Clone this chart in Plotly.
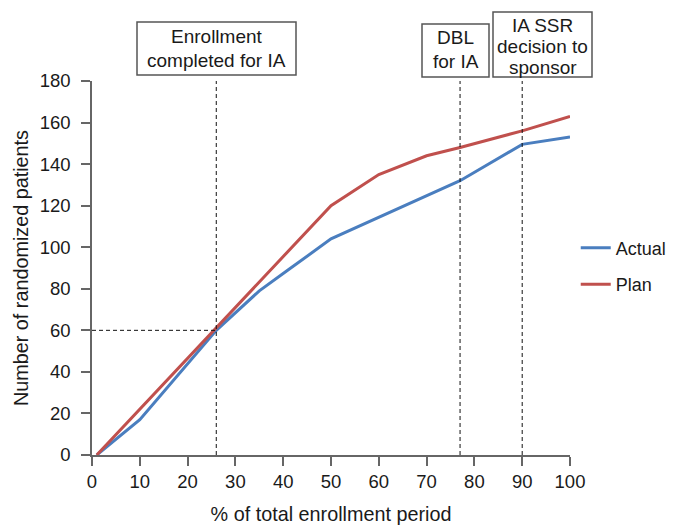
import plotly.graph_objects as go

actual_x = [1, 10, 26, 35, 41, 50, 77, 90, 100]
actual_y = [0, 17, 60, 79, 89, 104, 132, 149.5, 153]
plan_x = [1, 50, 60, 70, 77, 90, 100]
plan_y = [0, 120, 135, 144, 148, 156, 163]

vlines_x = [26, 77, 90]
hline_y = 60
x_ticks = list(range(0, 101, 10))
y_ticks = list(range(0, 181, 20))

box_texts = [["Enrollment", "completed for IA"], ["DBL", "for IA"], ["IA SSR", "decision to", "sponsor"]]

FONT = "Liberation Sans, Arial, sans-serif"
TXT = "#1a1a1a"
BLUE = "#4a7ebf"
RED = "#c0504d"

W, H = 676, 525
ML, MR, MT, MB = 92, 106, 81, 70
PW, PH = W - ML - MR, H - MT - MB


def px_x(px):
    return (px - ML) / PW


def px_y(py):
    return (H - MB - py) / PH


fig = go.Figure()
fig.add_trace(go.Scatter(x=actual_x, y=actual_y, mode="lines", name="Actual", legendgroup="a",
                         line=dict(color=BLUE, width=3)))
fig.add_trace(go.Scatter(x=plan_x, y=plan_y, mode="lines", name="Plan", legendgroup="p",
                         line=dict(color=RED, width=3)))

for vx in vlines_x:
    fig.add_shape(type="line", x0=vx, x1=vx, y0=0, y1=180, xref="x", yref="y",
                  line=dict(color="#111", width=1, dash="4px,3px"))
fig.add_shape(type="line", x0=0, x1=vlines_x[0], y0=hline_y, y1=hline_y, xref="x", yref="y",
              line=dict(color="#111", width=1, dash="4px,3px"))

# label boxes (pixel layout: left, right, top, bottom, line centres)
box_layout = [
    (137, 296, 22, 75, [37, 60]),
    (422, 489, 24, 77, [38, 61]),
    (493, 592, 12, 77, [25, 46, 67]),
]
for texts, (bx0, bx1, by0, by1, ys) in zip(box_texts, box_layout):
    fig.add_shape(type="rect", xref="paper", yref="paper",
                  x0=px_x(bx0), x1=px_x(bx1), y0=px_y(by1), y1=px_y(by0),
                  line=dict(color="#555", width=1.5), fillcolor="white", layer="above")
    cx = px_x((bx0 + bx1) / 2)
    for t, ly in zip(texts, ys):
        fig.add_annotation(text=t, x=cx, y=px_y(ly), xref="paper", yref="paper",
                           xanchor="center", yanchor="middle", showarrow=False,
                           font=dict(family=FONT, size=19, color=TXT))

axis_common = dict(showline=True, linecolor="#666", linewidth=1.5, ticks="outside",
                   ticklen=9, tickcolor="#666", tickwidth=1.5, showgrid=False, zeroline=False,
                   tickfont=dict(family=FONT, size=18.5, color=TXT))
fig.update_xaxes(range=[0, 100], tickvals=x_ticks, **axis_common,
                 title=dict(text="% of total enrollment period",
                            font=dict(family=FONT, size=19.8, color=TXT), standoff=16))
fig.update_yaxes(range=[0, 180], tickvals=y_ticks, ticklabelstandoff=7, **axis_common,
                 title=dict(text="Number of randomized patients",
                            font=dict(family=FONT, size=19.8, color=TXT), standoff=6))

fig.update_layout(width=W, height=H, margin=dict(l=ML, r=MR, t=MT, b=MB, autoexpand=False),
                  plot_bgcolor="white", paper_bgcolor="white",
                  legend=dict(x=1.012, y=0.505, xanchor="left", yanchor="middle",
                              font=dict(family=FONT, size=18, color=TXT),
                              itemwidth=30, tracegroupgap=10, bgcolor="rgba(0,0,0,0)"))

fig.write_html("out.html")
